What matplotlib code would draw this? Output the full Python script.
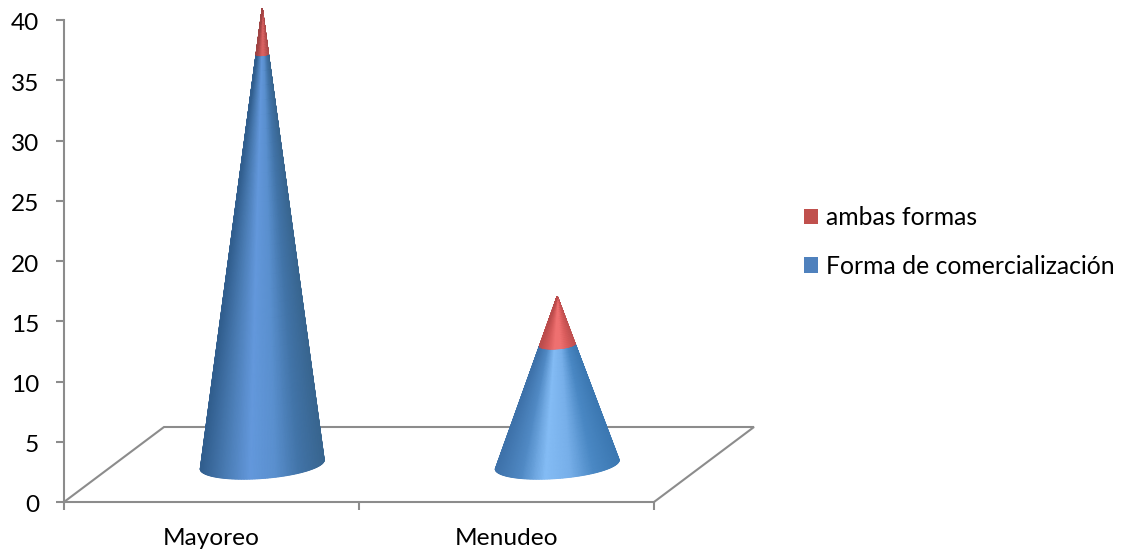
import numpy as np
import matplotlib
matplotlib.use('Agg')
import matplotlib.pyplot as plt
from matplotlib.colors import LinearSegmentedColormap
from matplotlib.patches import Patch
from matplotlib.transforms import ScaledTranslation

categories = ['Mayoreo', 'Menudeo']
forma_comercializacion = [36, 10.5]
ambas_formas = [4, 4.25]
y_ticks = [0, 5, 10, 15, 20, 25, 30, 35, 40]

plt.rcParams['font.family'] = ['Lato', 'DejaVu Sans']
grey = '#8c8c8c'
W, H = 1128, 554

fig = plt.figure(figsize=(W / 100, H / 100), dpi=100)
ax = fig.add_axes([64 / W, (H - 502) / H, 590 / W, 482 / H])
ax.set_xlim(0, 2)
ax.set_ylim(0, 40)

# size of one data unit in pixels, the floor depth and the cone shape come from it
ux = 590 / 2
uy = 482 / 40
depth_x = 100 / ux
depth_y = 75 / uy
radius = 62 / ux
minor_r = 14 / uy
tilt = 4.5 / uy
height_scale = 0.946

# floor
ax.plot([0, depth_x, 2 + depth_x, 2], [0, depth_y, depth_y, 0], color=grey, lw=1.5,
        clip_on=False, zorder=1, solid_joinstyle='miter')

blue_a = LinearSegmentedColormap.from_list('a', ['#38658f', '#4274a8', '#5a90cf', '#6398dc', '#4a7cb4', '#315e8e'])
blue_b = LinearSegmentedColormap.from_list('b', ['#3c78b2', '#4a88c4', '#78b0ea', '#84bcf5', '#5089c4', '#3e72aa'])
red_a = LinearSegmentedColormap.from_list('c', ['#a94a4a', '#c25454', '#d86262', '#d86262', '#bd5050', '#a04444'])
red_b = LinearSegmentedColormap.from_list('d', ['#c05050', '#d85c5c', '#ee7070', '#ee7070', '#d45a5a', '#bb4c4c'])


def cone_part(i, low, high, total, cmap):
    theta = np.linspace(0, np.pi, 121)
    v = np.linspace(low, high, 30)
    tt, vv = np.meshgrid(theta, v)
    s = 1 - vv / total
    xc = i + 0.5 + depth_x / 2 + 0.75 / ux
    yc = depth_y / 2
    x = xc + radius * s * np.cos(tt)
    y = yc + s * (-minor_r * np.sin(tt) + tilt * np.cos(tt)) + height_scale * vv
    ax.pcolormesh(x, y, -np.cos(tt), cmap=cmap, vmin=-1, vmax=1, shading='gouraud',
                  clip_on=False, zorder=3, rasterized=True)


for i in range(len(categories)):
    total = forma_comercializacion[i] + ambas_formas[i]
    cone_part(i, 0, forma_comercializacion[i], total, [blue_a, blue_b][i])
    cone_part(i, forma_comercializacion[i], total, total, [red_a, red_b][i])

for side in ['top', 'right']:
    ax.spines[side].set_visible(False)
for side in ['left', 'bottom']:
    ax.spines[side].set_color(grey)
    ax.spines[side].set_linewidth(1.5)

ax.set_yticks(y_ticks)
ax.set_xticks([0, 1, 2])
ax.set_xticklabels([])
ax.set_xticks([0.5, 1.5], minor=True)
ax.set_xticklabels(categories, minor=True)
ax.tick_params(axis='y', length=6, width=1.5, color=grey, labelsize=17.6, pad=12, labelcolor='black')
ax.tick_params(axis='x', which='major', length=6, width=1.5, color=grey)
ax.tick_params(axis='x', which='minor', length=0, labelsize=17.6, pad=19, labelcolor='black')

# y labels sit a little under their ticks
shift = ScaledTranslation(0, -2 / 100, fig.dpi_scale_trans)
for label in ax.get_yticklabels():
    label.set_transform(label.get_transform() + shift)

handles = [Patch(facecolor='#c0504d', label='ambas formas'),
           Patch(facecolor='#4f81bd', label='Forma de comercialización')]
fig.legend(handles=handles, loc='upper left', bbox_to_anchor=(804 / W, (H - 206) / H), frameon=False,
           fontsize=17.8, borderpad=0, borderaxespad=0, labelspacing=1.04,
           handlelength=0.57, handleheight=0.57, handletextpad=0.33)

fig.savefig('out.png', dpi=100)
